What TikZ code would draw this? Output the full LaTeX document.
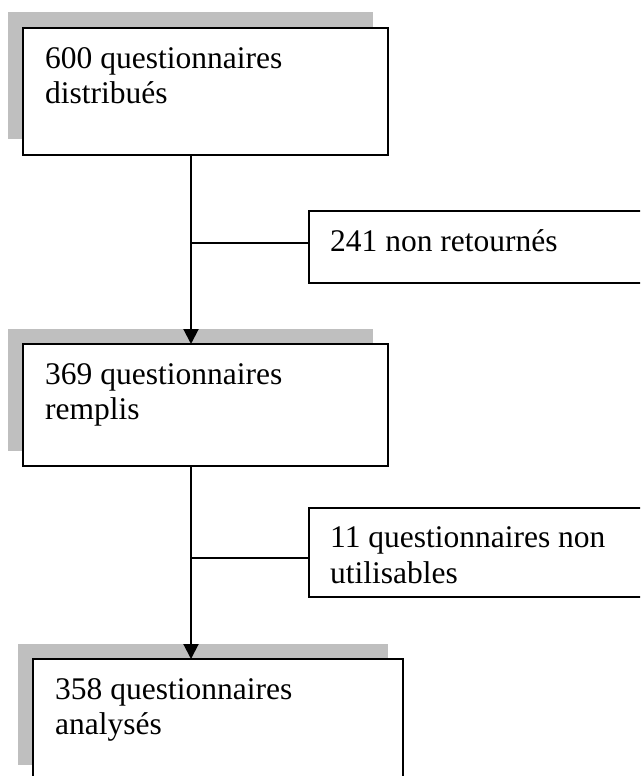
\documentclass[tikz,border=0pt]{standalone}
\usepackage{fontspec}
\setmainfont{Liberation Serif}
\usetikzlibrary{arrows.meta}
\begin{document}
\begin{tikzpicture}[x=1pt,y=-1pt,
  lw/.style={line width=2pt},
  shadowbox/.style={fill=black!25, draw=none},
  mainbox/.style={draw, lw, fill=white},
  txt/.style={anchor=base west, inner sep=0pt, align=left, font=\fontsize{31.5}{35.5}\selectfont},
  conn/.style={lw},
  arr/.style={lw, -{Triangle[length=15pt,width=15pt]}}]
\useasboundingbox (0,0) rectangle (640,776);
\clip (0,0) rectangle (640,776);
% box 1
\fill[shadowbox] (8,12) rectangle (373,139);
\draw[mainbox] (23,28) rectangle (388,155);
\node[txt] (t1) at (45,103.5) {600 questionnaires\\distribués};
\coordinate (b1) at (191,155);
% side box 1
\draw[mainbox] (309,211) rectangle (660,283);
\node[txt] (s1) at (330,251) {241 non retournés};
\coordinate (s1w) at (309,243);
% box 2
\fill[shadowbox] (8,329) rectangle (373,451);
\draw[mainbox] (23,344) rectangle (388,466);
\node[txt] (t2) at (45,419.5) {369 questionnaires\\remplis};
\coordinate (b2t) at (191,344);
\coordinate (b2) at (191,466);
% side box 2
\draw[mainbox] (309,508) rectangle (660,597);
\node[txt] (s2) at (330,583) {11 questionnaires non\\utilisables};
\coordinate (s2w) at (309,558);
% box 3
\fill[shadowbox] (18,644) rectangle (388,765);
\draw[mainbox] (33,659) rectangle (403,790);
\node[txt] (t3) at (55,734.5) {358 questionnaires\\analysés};
\coordinate (b3t) at (191,659);
% connectors
\draw[arr] (b1) -- (b2t);
\draw[conn] (s1w) -- (b1 |- s1w);
\draw[arr] (b2) -- (b3t);
\draw[conn] (s2w) -- (b2 |- s2w);
\end{tikzpicture}
\end{document}
